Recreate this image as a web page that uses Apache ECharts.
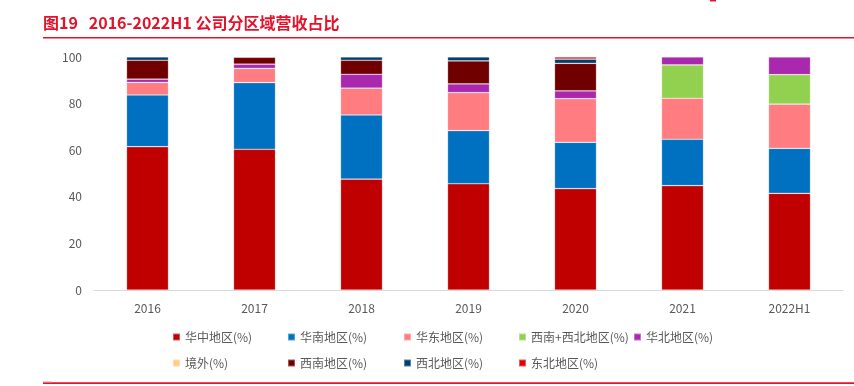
<!DOCTYPE html>
<html><head><meta charset="utf-8">
<script src="https://cdn.jsdelivr.net/npm/echarts@6/dist/echarts.min.js"></script>
<style>html,body{margin:0;padding:0;background:#fff}#c{width:854px;height:386px}</style>
</head><body><div id="c"></div>
<script>
const categories = ['2016','2017','2018','2019','2020','2021','2022H1'];
const yTicks = [0,20,40,60,80,100];
const seriesNames = ['华中地区(%)','华南地区(%)','华东地区(%)','西南+西北地区(%)','华北地区(%)','境外(%)','西南地区(%)','西北地区(%)','东北地区(%)'];
const huazhong = [61.5, 60.4, 47.6, 45.6, 43.5, 44.8, 41.5];
const huanan   = [22.2, 28.6, 27.5, 22.8, 19.9, 19.9, 19.3];
const huadong  = [5.4, 6.1, 11.5, 16.3, 18.7, 17.6, 19.0];
const xinanxibei = [null, null, null, null, null, 14.3, 12.6];
const huabei   = [1.4, 1.8, 6.0, 3.8, 3.4, 3.4, 7.6];
const jingwai  = [null, null, null, null, null, null, null];
const xinan    = [8.1, 3.0, 6.0, 9.8, 11.8, null, null];
const xibei    = [1.4, 0.1, 1.4, 1.7, 1.8, null, null];
const dongbei  = [null, null, null, null, 0.9, null, null];
const seriesData = [huazhong, huanan, huadong, xinanxibei, huabei, jingwai, xinan, xibei, dongbei];
const colors = ['#C00000','#0070C0','#FF7C80','#92D050','#AA28AE','#FFCC80','#700000','#003F6F','#E60000'];

const font = '"Noto Sans CJK SC", "Noto Sans", sans-serif';
const chart = echarts.init(document.getElementById('c'));
const legendPos = [[172,331],[287,331],[403,331],[518,331],[633,331],[172,357],[287,357],[403,357],[518,357]];
const legends = seriesNames.map((n,i)=>({
  data:[n], left:legendPos[i][0], top:legendPos[i][1], itemWidth:7, itemHeight:7, itemGap:0, padding:0,
  icon:'rect', textStyle:{color:'#595959', fontSize:12, fontFamily:font}, selectedMode:false
}));
chart.setOption({
  animation:false,
  color: colors,
  textStyle:{fontFamily:font},
  title:{text:'图19\u00a0\u00a0 2016-2022H1 公司分区域营收占比', left:43, top:15, padding:0,
    textStyle:{color:'#E2132B', fontSize:16, fontWeight:'bold', fontFamily:font}},
  graphic:[
    {type:'rect', shape:{x:43,y:37,width:811,height:1.6}, style:{fill:'#E2132B'}},
    {type:'rect', shape:{x:43,y:382.3,width:811,height:1.6}, style:{fill:'#E2132B'}},
    {type:'rect', shape:{x:43,y:381.3,width:9,height:1}, style:{fill:'#F7A8B0'}},
    {type:'rect', shape:{x:710,y:0,width:6,height:1.5}, style:{fill:'#E2132B'}}
  ],
  legend: legends,
  grid:{left:94, right:11, top:57, bottom:96},
  xAxis:{type:'category', data:categories,
    axisLine:{lineStyle:{color:'#D9D9D9', width:1}}, axisTick:{show:false},
    axisLabel:{color:'#595959', fontSize:12, margin:12, fontFamily:font}},
  yAxis:{type:'value', min:0, max:100, interval:20,
    axisLine:{show:false}, axisTick:{show:false}, splitLine:{show:false},
    axisLabel:{color:'#595959', fontSize:12, margin:12, fontFamily:font,
      formatter:v=> yTicks.includes(v) ? String(v) : ''}},
  series: seriesNames.map((n,i)=>({
    name:n, type:'bar', stack:'t', barWidth:42, data:seriesData[i],
    itemStyle:{color:colors[i], borderColor:'rgba(255,255,255,0.35)', borderWidth:0.7}
  }))
});
</script></body></html>
